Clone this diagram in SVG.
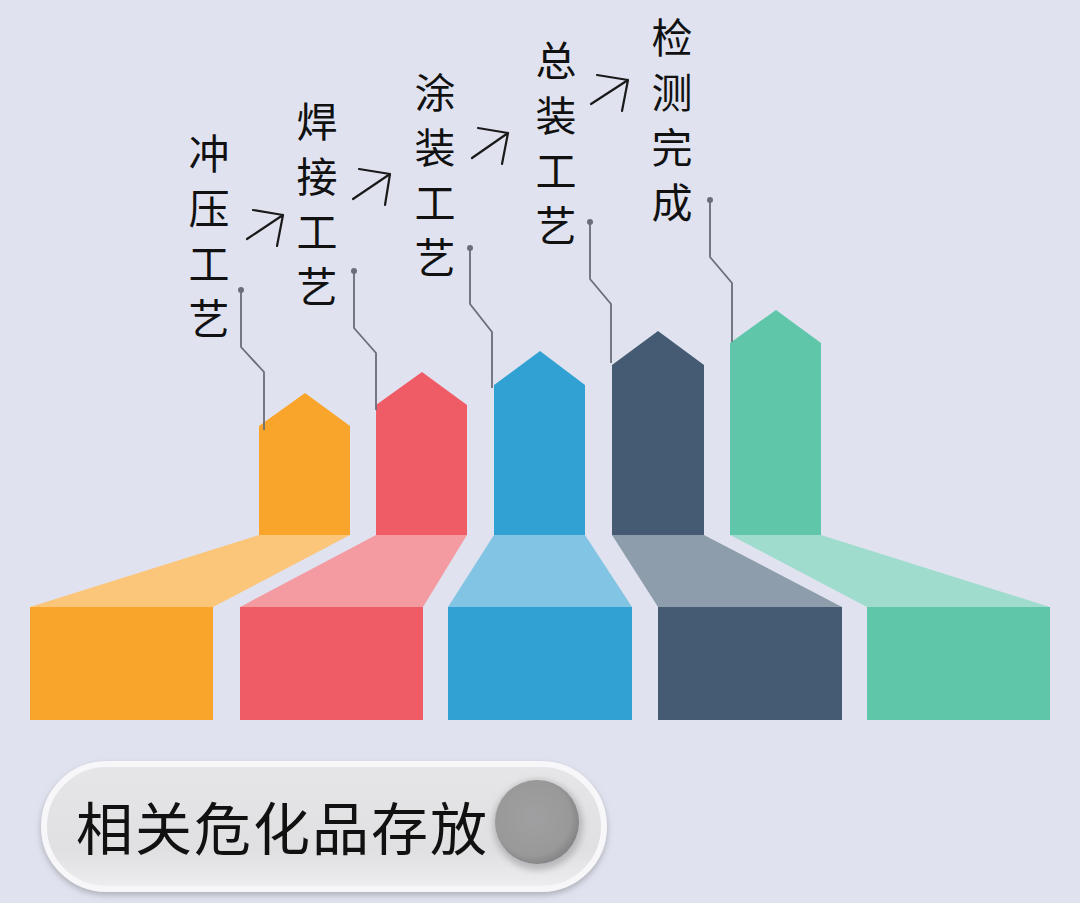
<svg xmlns="http://www.w3.org/2000/svg" width="1080" height="903" viewBox="0 0 1080 903">
  <defs>
    <style>
      .lbl { font-family: "Noto Sans CJK SC", "Noto Sans CJK TC", sans-serif; font-size: 41px; fill: #111111; writing-mode: vertical-rl; letter-spacing: 14px; }
      .big { font-family: "Noto Sans CJK SC", "Noto Sans CJK TC", sans-serif; font-size: 57px; fill: #111111; letter-spacing: 2px; }
      .lead { fill: none; stroke: #6b6d78; stroke-width: 1.8; }
      .dot { fill: #6b6d78; }
      .arr { fill: none; stroke: #1a1a1a; stroke-width: 2.2; stroke-linecap: round; stroke-linejoin: round; }
    </style>
    <linearGradient id="pillFill" x1="0" y1="0" x2="0" y2="1">
      <stop offset="0" stop-color="#e6e6e8"/>
      <stop offset="0.7" stop-color="#e0e0e2"/>
      <stop offset="1" stop-color="#eeeef0"/>
    </linearGradient>
    <radialGradient id="knob" cx="0.45" cy="0.45" r="0.6">
      <stop offset="0" stop-color="#a0a0a2"/>
      <stop offset="0.75" stop-color="#999999"/>
      <stop offset="1" stop-color="#7d7d80"/>
    </radialGradient>
    <filter id="shadow" x="-10%" y="-20%" width="120%" height="150%">
      <feDropShadow dx="0" dy="3" stdDeviation="3" flood-color="#8a8a90" flood-opacity="0.6"/>
    </filter>
    <filter id="soft" x="-30%" y="-30%" width="160%" height="160%">
      <feGaussianBlur stdDeviation="3"/>
    </filter>
  </defs>

  <rect x="0" y="0" width="1080" height="903" fill="#e0e3ef"/>

  <g id="step-chongya">
    <polygon points="259,426 305,393 350,426 350,535 259,535" fill="#f9a42a"/>
    <polygon points="259,535 350,535 213,607 30,607" fill="#fbc57a"/>
    <rect x="30" y="607" width="183" height="113" fill="#f9a42a"/>
    <text class="lbl" x="209" y="133">冲压工艺</text>
  </g>

  <g id="step-hanjie">
    <polygon points="376,405 422,372 467,405 467,535 376,535" fill="#ef5c66"/>
    <polygon points="376,535 467,535 423,607 240,607" fill="#f49ba2"/>
    <rect x="240" y="607" width="183" height="113" fill="#ef5c66"/>
    <text class="lbl" x="317" y="101">焊接工艺</text>
  </g>

  <g id="step-tuzhuang">
    <polygon points="494,385 540,351 585,385 585,535 494,535" fill="#31a0d2"/>
    <polygon points="494,535 585,535 632,607 448,607" fill="#82c4e3"/>
    <rect x="448" y="607" width="184" height="113" fill="#31a0d2"/>
    <text class="lbl" x="435" y="72">涂装工艺</text>
  </g>

  <g id="step-zongzhuang">
    <polygon points="612,365 658,331 704,365 704,535 612,535" fill="#455a73"/>
    <polygon points="612,535 704,535 842,607 658,607" fill="#8e9dab"/>
    <rect x="658" y="607" width="184" height="113" fill="#455a73"/>
    <text class="lbl" x="556" y="40">总装工艺</text>
  </g>

  <g id="step-jiance">
    <polygon points="730,343 776,310 821,343 821,535 730,535" fill="#60c6aa"/>
    <polygon points="730,535 821,535 1050,607 867,607" fill="#a0dccd"/>
    <rect x="867" y="607" width="183" height="113" fill="#60c6aa"/>
    <text class="lbl" x="672" y="17">检测完成</text>
  </g>

  <g id="connectors">
    <polyline class="lead" points="241,290 241,347 264,372 264,430"/>
    <circle class="dot" cx="241" cy="290" r="3"/>
    <polyline class="lead" points="354,271 354,328 376,353 376,410"/>
    <circle class="dot" cx="354" cy="271" r="3"/>
    <polyline class="lead" points="470,248 470,304 492,332 492,388"/>
    <circle class="dot" cx="470" cy="248" r="3"/>
    <polyline class="lead" points="590,222 590,279 611,304 611,363"/>
    <circle class="dot" cx="590" cy="222" r="3"/>
    <polyline class="lead" points="710,200 710,257 732,283 732,342"/>
    <circle class="dot" cx="710" cy="200" r="3"/>

    <path class="arr" d="M247,239 L283,215 M253,210 L283,215 L277,246"/>
    <path class="arr" d="M353,199 L390,174 M359,169 L390,174 L385,205"/>
    <path class="arr" d="M472,158 L508,133 M478,128 L508,133 L502,164"/>
    <path class="arr" d="M591,104 L628,80 M597,75 L628,80 L622,111"/>
  </g>

  <g id="storage-pill">
    <rect x="44" y="764" width="560" height="125" rx="62.5" fill="url(#pillFill)" stroke="#f7f7f9" stroke-width="6" filter="url(#shadow)"/>
    <circle cx="538" cy="825" r="45" fill="#b8b8bc" filter="url(#soft)"/>
    <circle cx="537" cy="822" r="42" fill="url(#knob)"/>
    <text class="big" x="76" y="850">相关危化品存放</text>
  </g>
</svg>
